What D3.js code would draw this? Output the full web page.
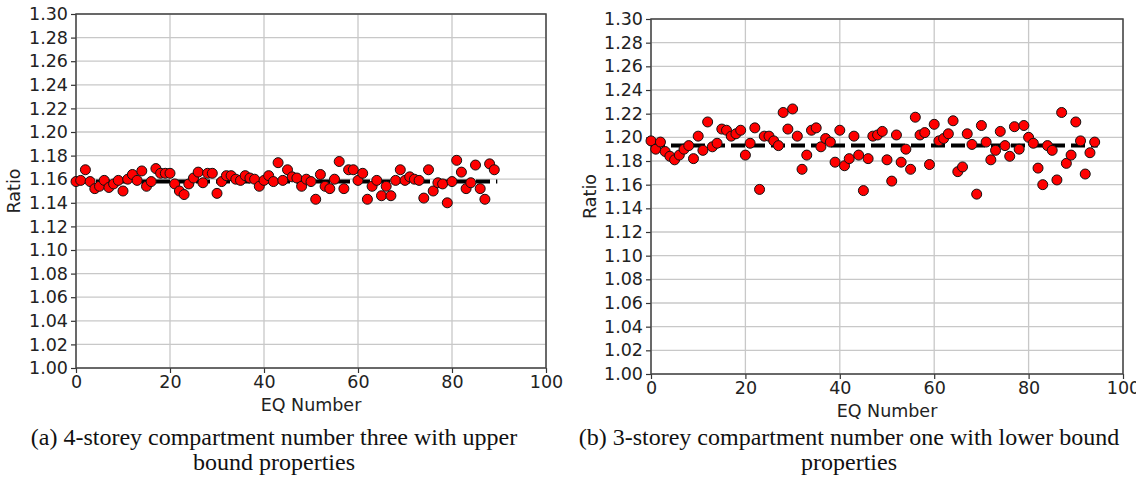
<!DOCTYPE html>
<html>
<head>
<meta charset="utf-8">
<script src="https://cdn.jsdelivr.net/npm/d3@7"></script>
<style>
  body { margin: 0; background: #fff; }
  svg { display: block; }
  .tick text { font-family: "DejaVu Sans", sans-serif; font-size: 17.5px; fill: #222; }
  .axisText { font-family: "DejaVu Sans", sans-serif; font-size: 17.5px; fill: #222; }
  .caption { font-family: "Liberation Serif", "Times New Roman", serif; font-size: 24px; fill: #111; }
</style>
</head>
<body>
<div id="chart"></div>
<script>
// Data
var xTicks = [0, 20, 40, 60, 80, 100];
var yTicks = [1.00, 1.02, 1.04, 1.06, 1.08, 1.10, 1.12, 1.14, 1.16, 1.18, 1.20, 1.22, 1.24, 1.26, 1.28, 1.30];

// (a) 4-storey, compartment 3, upper bound: EQ 0..89
var ratioA = [1.158, 1.159, 1.168, 1.158, 1.152, 1.154, 1.159, 1.153, 1.156, 1.159,
              1.150, 1.160, 1.164, 1.159, 1.167, 1.154, 1.158, 1.169, 1.165, 1.165,
              1.165, 1.156, 1.150, 1.147, 1.156, 1.161, 1.166, 1.157, 1.165, 1.165,
              1.148, 1.158, 1.163, 1.163, 1.160, 1.159, 1.163, 1.161, 1.160, 1.154,
              1.159, 1.163, 1.158, 1.174, 1.159, 1.168, 1.162, 1.161, 1.154, 1.160,
              1.158, 1.143, 1.164, 1.154, 1.152, 1.160, 1.175, 1.152, 1.168, 1.168,
              1.159, 1.165, 1.143, 1.154, 1.159, 1.146, 1.154, 1.146, 1.159, 1.168,
              1.159, 1.162, 1.160, 1.159, 1.144, 1.168, 1.150, 1.157, 1.156, 1.140,
              1.158, 1.176, 1.166, 1.152, 1.157, 1.172, 1.152, 1.143, 1.173, 1.168];
var meanA = 1.158;

// (b) 3-storey, compartment 1, lower bound: EQ 0..94
var ratioB = [1.197, 1.190, 1.196, 1.188, 1.184, 1.181, 1.185, 1.190, 1.193, 1.182,
              1.201, 1.189, 1.213, 1.192, 1.195, 1.207, 1.206, 1.201, 1.203, 1.206,
              1.185, 1.195, 1.208, 1.156, 1.201, 1.201, 1.197, 1.193, 1.221, 1.207,
              1.224, 1.201, 1.173, 1.185, 1.206, 1.208, 1.192, 1.199, 1.196, 1.179,
              1.206, 1.176, 1.182, 1.201, 1.185, 1.155, 1.182, 1.201, 1.202, 1.205,
              1.181, 1.163, 1.202, 1.179, 1.190, 1.173, 1.217, 1.202, 1.204, 1.177,
              1.211, 1.197, 1.199, 1.203, 1.214, 1.171, 1.175, 1.203, 1.194, 1.152,
              1.210, 1.196, 1.181, 1.189, 1.205, 1.193, 1.184, 1.209, 1.190, 1.210,
              1.200, 1.195, 1.174, 1.160, 1.193, 1.189, 1.164, 1.221, 1.178, 1.185,
              1.213, 1.197, 1.169, 1.187, 1.196];
var meanB = 1.193;

var captionA = ["(a) 4-storey compartment number three with upper", "bound properties"];
var captionB = ["(b) 3-storey compartment number one with lower bound", "properties"];

var svgWidth = 1147;
var svgHeight = 502;

var svg = d3.select("#chart")
  .append("svg")
  .attr("width", svgWidth)
  .attr("height", svgHeight);

function drawPanel(p) {
  var width = p.right - p.left;
  var height = p.bottom - p.top;
  var g = svg.append("g")
    .attr("transform", `translate(${p.left}, ${p.top})`);

  var x = d3.scaleLinear().domain([0, 100]).range([0, width]);
  var y = d3.scaleLinear().domain([1.0, 1.3]).range([height, 0]);

  // grid
  g.append("g").selectAll("line")
    .data(xTicks)
    .enter()
    .append("line")
    .attr("x1", d => x(d)).attr("x2", d => x(d))
    .attr("y1", 0).attr("y2", height)
    .attr("stroke", "#c8c8c8")
    .attr("stroke-width", 1.3);
  g.append("g").selectAll("line")
    .data(yTicks)
    .enter()
    .append("line")
    .attr("x1", 0).attr("x2", width)
    .attr("y1", d => y(d)).attr("y2", d => y(d))
    .attr("stroke", "#c8c8c8")
    .attr("stroke-width", 1.3);

  // axes
  var bottomAxis = d3.axisBottom(x).tickValues(xTicks).tickSize(5).tickPadding(3).tickFormat(d3.format("d"));
  var leftAxis = d3.axisLeft(y).tickValues(yTicks).tickSize(5).tickPadding(3).tickFormat(d3.format(".2f"));
  var xa = g.append("g")
    .attr("transform", `translate(0, ${height})`)
    .call(bottomAxis);
  var ya = g.append("g")
    .call(leftAxis);
  [xa, ya].forEach(function(a) {
    a.select(".domain").remove();
    a.selectAll(".tick line").attr("stroke", "#333").attr("stroke-width", 1.2);
  });

  // frame
  g.append("rect")
    .attr("width", width)
    .attr("height", height)
    .attr("fill", "none")
    .attr("stroke", "#444")
    .attr("stroke-width", 1.5);

  // mean line
  g.append("line")
    .attr("x1", x(0))
    .attr("x2", x(p.data.length - 1) + 3)
    .attr("y1", y(p.mean))
    .attr("y2", y(p.mean))
    .attr("stroke", "#000")
    .attr("stroke-width", 4)
    .attr("stroke-dasharray", "14,6");

  // points
  g.selectAll("circle")
    .data(p.data)
    .enter()
    .append("circle")
    .attr("cx", (d, i) => x(i))
    .attr("cy", d => y(d))
    .attr("r", 5)
    .attr("fill", "#ff0000")
    .attr("stroke", "#111")
    .attr("stroke-width", 1);

  // axes labels
  g.append("text")
    .attr("class", "axisText")
    .attr("transform", "rotate(-90)")
    .attr("x", -height / 2)
    .attr("y", p.ylabelX - p.left)
    .attr("text-anchor", "middle")
    .text("Ratio");

  g.append("text")
    .attr("class", "axisText")
    .attr("x", width / 2)
    .attr("y", height + 43)
    .attr("text-anchor", "middle")
    .text("EQ Number");

  // caption
  svg.append("text")
    .attr("class", "caption")
    .attr("text-anchor", "middle")
    .selectAll("tspan")
    .data(p.caption)
    .enter()
    .append("tspan")
    .attr("x", p.captionX)
    .attr("y", (d, i) => 445 + i * 25)
    .text(d => d);
}

drawPanel({ left: 76, right: 546, top: 14, bottom: 368, data: ratioA, mean: meanA,
  ylabelX: 20, caption: captionA, captionX: 274 });
drawPanel({ left: 651, right: 1123, top: 19, bottom: 374, data: ratioB, mean: meanB,
  ylabelX: 596, caption: captionB, captionX: 849 });

// the source figure is cropped at the right edge
svg.append("rect")
  .attr("x", 1136).attr("y", 376)
  .attr("width", 11).attr("height", 30)
  .attr("fill", "#fff");
</script>
</body>
</html>
